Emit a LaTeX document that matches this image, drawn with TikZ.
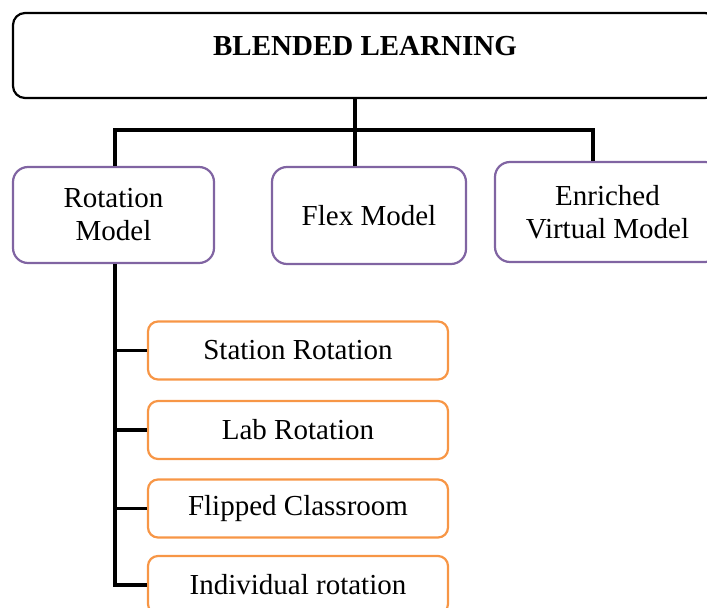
\documentclass[tikz,border=0pt]{standalone}
\usepackage{fontspec}
\setmainfont{Liberation Serif}
\usetikzlibrary{positioning}
\definecolor{purp}{HTML}{8064A2}
\definecolor{orng}{HTML}{F79646}
\tikzset{
  topbox/.style={draw=black, line width=1.1pt, rounded corners=6pt, inner sep=0pt, font=\fontsize{14.5}{16.5}\selectfont\bfseries, minimum width=352pt, text height=21.5pt, text depth=21pt},
  modbox/.style={draw=purp, line width=1.1pt, rounded corners=7.5pt, align=center, font=\fontsize{14.5}{16.5}\selectfont},
  subbox/.style={draw=orng, line width=1.1pt, rounded corners=5pt, minimum width=150pt, minimum height=29pt, font=\fontsize{14.5}{16.5}\selectfont},
  link/.style={draw=black, line width=1.7pt, line join=miter},
}
\begin{document}
\begin{tikzpicture}[x=0.5pt, y=-0.5pt]
  \clip (0,0) rectangle (707,608);
  \node[topbox] (blended) at (365,55.5) {BLENDED LEARNING};
  \node[modbox, minimum width=100.5pt, minimum height=48pt] (rotation) at (113.5,215) {Rotation\\Model};
  \node[modbox, minimum width=97pt, minimum height=48.5pt] (flex) at (369,215.5) {Flex Model};
  \node[modbox, minimum width=112.5pt, minimum height=50pt] (enriched) at (607.5,212) {Enriched\\Virtual Model};
  \node[subbox] (station) at (298,350.5) {Station Rotation};
  \node[subbox] (lab) at (298,430) {Lab Rotation};
  \node[subbox] (flipped) at (298,508.5) {Flipped Classroom};
  \node[subbox] (indiv) at (298,585) {Individual rotation};
  % tree lines
  \coordinate (busL) at (115,130);
  \coordinate (busM) at (355,130);
  \coordinate (busR) at (593,130);
  \draw[link] (blended.south -| busM) -- (busM);
  \draw[link] (busL |- rotation.north) -- (busL) -- (busR) -- (busR |- enriched.north);
  \draw[link] (busM) -- (busM |- flex.north);
  \draw[link] (rotation.south -| busL) |- (indiv.west);
  \foreach \n in {station,lab,flipped}{
    \draw[link] (\n.west -| busL) -- (\n.west);
  }
\end{tikzpicture}
\end{document}
